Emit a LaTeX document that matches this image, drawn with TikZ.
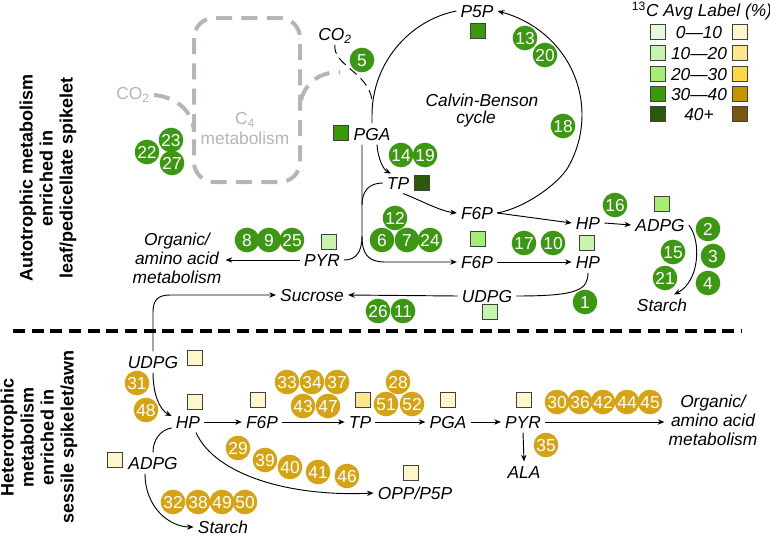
\documentclass[tikz,border=0pt]{standalone}
\usepackage{fontspec}
\setmainfont{Liberation Sans}
\usetikzlibrary{arrows.meta,calc}
\definecolor{gcirc}{RGB}{61,151,20}
\definecolor{ycirc}{RGB}{213,163,22}
\definecolor{ga}{RGB}{228,250,218}
\definecolor{gb}{RGB}{200,243,175}
\definecolor{gcc}{RGB}{168,238,118}
\definecolor{gd}{RGB}{58,152,10}
\definecolor{ge}{RGB}{42,90,10}
\definecolor{ya}{RGB}{255,246,204}
\definecolor{yb}{RGB}{255,230,140}
\definecolor{yc}{RGB}{255,216,74}
\definecolor{yd}{RGB}{199,147,0}
\definecolor{ye}{RGB}{122,86,16}
\definecolor{cfour}{RGB}{178,182,182}
\begin{document}
\begin{tikzpicture}[x=0.75pt,y=-0.75pt,
  lbl/.style={font=\fontsize{13}{14}\selectfont\itshape, inner sep=3pt, text height=9.4pt, text depth=0pt, align=center},
  gc/.style={circle, fill=gcirc, text=white, font=\fontsize{13}{13}\selectfont, minimum size=18.5pt, inner sep=0pt, text height=9.3pt, text depth=0pt},
  yc/.style={gc, fill=ycirc},
  sq/.style={draw=black!75, line width=0.6pt, minimum size=11pt, inner sep=0pt},
  ln/.style={line width=0.7pt},
  arr/.style={ln, -{Stealth[length=5pt,width=4pt]}},
  side/.style={rotate=90, align=center, font=\fontsize{13.5}{15}\selectfont\bfseries},
  grey/.style={cfour, line width=3pt, dash pattern=on 12pt off 7pt}]
\useasboundingbox (0,0) rectangle (770,536);

% side labels and separator
\node[side] (auto) at (48,178) {Autotrophic metabolism\\enriched in\\leaf/pedicellate spikelet};
\node[side] (hetero) at (39,437) {Heterotrophic\\metabolism\\enriched in\\sessile spikelet/awn};
\draw[line width=3pt, dash pattern=on 9pt off 5pt] (13,331) -- (742,331);

% C4 box (multi-line nodes are placed by their last line)
\draw[grey, rounded corners=15pt] (194,18) rectangle (300,182);
\node[font=\fontsize{13}{15}\selectfont, text=cfour, align=center, text height=9.4pt, text depth=0pt] (c4) at (245,138) {C\textsubscript{4}\\metabolism};
\node[font=\fontsize{13}{15}\selectfont, text=cfour, inner sep=3pt] (co2g) at (133,95) {CO\textsubscript{2}};
\draw[grey] (co2g.east) .. controls (175,97) and (193,110) .. (194,132);
\draw[grey] (301,100) .. controls (306,82) and (320,72) .. (340,72);

% top labels
\node[lbl] (p5p) at (477,11) {P5P};
\node[lbl] (cb1) at (482,100) {Calvin-Benson};
\node[lbl] (cb2) at (476,117) {cycle};
\node[lbl] (co2) at (335,34) {CO\textsubscript{2}};
\node[lbl] (pga) at (372,134) {PGA};
\node[lbl] (tp) at (398,183) {TP};
\node[lbl] (f6p) at (477,213) {F6P};
\node[lbl] (f6pb) at (477,262) {F6P};
\node[lbl] (hp) at (588,223) {HP};
\node[lbl] (hpb) at (588,262) {HP};
\node[lbl] (adpg) at (660,225) {ADPG};
\node[lbl] (starch) at (662,305) {Starch};
\node[lbl] (pyr) at (322,260) {PYR};
\node[lbl] (sucrose) at (312,295) {Sucrose};
\node[lbl] (udpg) at (487,296) {UDPG};
\node[lbl] (org) at (177,277) {Organic/\\amino acid\\metabolism};

% bottom labels
\node[lbl] (udpg2) at (153,362) {UDPG};
\node[lbl] (hp2) at (188,422) {HP};
\node[lbl] (adpg2) at (153,463) {ADPG};
\node[lbl] (starch2) at (223,527) {Starch};
\node[lbl] (f6p2) at (262,422) {F6P};
\node[lbl] (tp2) at (360,422) {TP};
\node[lbl] (pga2) at (448,422) {PGA};
\node[lbl] (pyr2) at (523,422) {PYR};
\node[lbl] (org2) at (713,439) {Organic/\\amino acid\\metabolism};
\node[lbl] (ala) at (524,472) {ALA};
\node[lbl] (opp) at (415,493) {OPP/P5P};

% Calvin-Benson cycle
\draw[ln] (p5p.west) .. controls (408.6,20.5) and (372,64) .. (372,115) -- (pga.north);
\draw[arr] (f6p.east) .. controls (525,208) and (558,184) .. (567.9,167.5)
  .. controls (584.4,139) and (586.5,104.3) .. (573.7,74)
  .. controls (560.8,43.6) and (534.4,21.1) .. (p5p.east);
\draw[ln, dash pattern=on 7pt off 4pt] (co2.south) .. controls (332,65) and (368,72) .. (372,100);

% top connectors
\draw[arr] ($(pga.south)+(5,0)$) .. controls (378,160) and (384,170) .. ($(tp.north)+(-7,1)$);
\draw[ln] ($(pga.south)+(-10,0)$) -- (362,236) .. controls (362,252) and (356,260) .. (pyr.east);
\draw[arr] (362,236) .. controls (362,254) and (368,262) .. (385,262) -- (f6pb.west);
\draw[ln] (tp.west) .. controls (370,183) and (362,190) .. (362,205);
\draw[arr] ($(tp.south)+(5,0)$) .. controls (420,200) and (440,211) .. (f6p.west);
\draw[arr] (f6p.east) -- (hp.west);
\draw[arr] (hp.east) -- (adpg.west);
\draw[arr] (adpg.east) .. controls (702,242) and (699,282) .. ($(starch.north)+(12,0)$);
\draw[arr] (f6pb.east) -- (hpb.west);
\draw[ln] (hpb.south) .. controls (588,290) and (578,296) .. (udpg.east);
\draw[arr] (udpg.west) -- (sucrose.east);
\draw[arr] (pyr.west) -- (org.east |- pyr.west);
\draw[arr] (udpg2.north) -- (153,312) .. controls (153,300) and (158,295) .. (170,295) -- (sucrose.west);

% bottom connectors
\draw[arr] (udpg2.south) .. controls (153,395) and (160,410) .. (hp2.160);
\draw[ln] (adpg2.north) .. controls (153,440) and (160,430) .. (hp2.200);
\draw[arr] ($(adpg2.south)+(-8,0)$) .. controls (145,508) and (170,527) .. (starch2.west);
\draw[arr] (hp2.east) -- (f6p2.west);
\draw[arr] (f6p2.east) -- (tp2.west);
\draw[arr] (tp2.east) -- (pga2.west);
\draw[arr] (pga2.east) -- (pyr2.west);
\draw[arr] (pyr2.east) -- (org2.west |- pyr2.east);
\draw[arr] (pyr2.south) -- (ala.north);
\draw[arr] ($(hp2.south)+(8,0)$) .. controls (215,475) and (290,497) .. (opp.west);

% numbered circles
\foreach \n/\x/\y in {5/362/60,22/147/152,23/171/140,27/172/163,13/525/38,20/545/55,18/563/126,14/401/155,19/425/155,12/395/218,6/382/240,7/407/240,24/430/240,8/247/240,9/269/240,25/292/240,16/615/205,17/524/243,10/553/243,1/585/302,2/708/229,3/713/256,4/708/283,15/673/252,21/665/278,26/378/311,11/403/311}
  \node[gc] (g\n) at (\x,\y) {\n};
\foreach \n/\x/\y in {31/137/383,48/146/410,32/173/502,38/198/502,49/222/502,50/245/502,33/287/382,34/312/382,37/337/382,43/303/406,47/328/406,28/398/382,51/386/404,52/412/404,29/238/448,39/265/460,40/290/467,41/318/472,46/347/476,30/557/402,36/580/402,42/603/402,44/627/402,45/650/402,35/546/445}
  \node[yc] (y\n) at (\x,\y) {\n};

% squares
\foreach \s/\x/\y/\c in {sp5p/478/31/gd,spga/341/133/gd,stp/422/183/ge,spyr/329/242/gb,sf6pb/478/239/gcc,shpb/587/243/gb,sudpg/490/312/gb,sadpg/662/204/gcc,
  sb1/195/358/ya,sb2/195/402/ya,sb3/258/400/ya,sb4/363/400/yb,sb5/448/400/ya,sb6/524/400/ya,sb7/411/473/ya,sb8/115/460/ya}
  \node[sq, fill=\c] (\s) at (\x,\y) {};

% legend
\node[lbl] (legt) at (702,10) {\textsuperscript{\upshape 13}C Avg Label (\%)};
\foreach \i/\t/\y/\cg/\cy in {1/0—10/32/ga/ya,2/10—20/53/gb/yb,3/20—30/74/gcc/yc,4/30—40/94/gd/yd,5/40+/114/ge/ye}{
  \node[sq, fill=\cg, minimum size=11.5pt] (lg\i) at (658,\y) {};
  \node[sq, fill=\cy, minimum size=11.5pt] (ly\i) at (740,\y) {};
  \node[lbl] (lt\i) at (699,\y) {\t};
}
\end{tikzpicture}
\end{document}
